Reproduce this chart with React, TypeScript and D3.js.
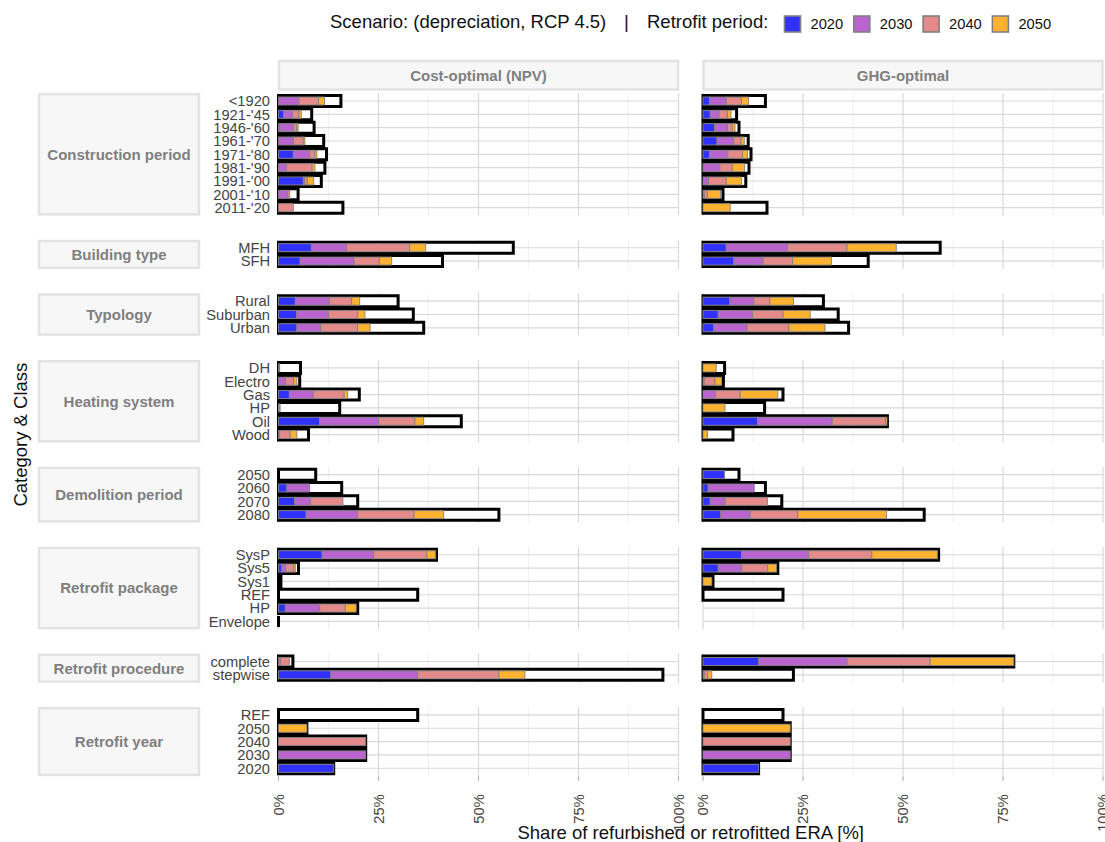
import React from "react";
import * as d3 from "d3";

type Row = [number, number, number, number, number] | null;

const periods = ["2020", "2030", "2040", "2050"];
const periodColors = ["#3131ff", "#b964cf", "#e48a8a", "#fdb32f"];
const scenarios = ["Cost-optimal (NPV)", "GHG-optimal"];
const categories = [
  "Construction period",
  "Building type",
  "Typology",
  "Heating system",
  "Demolition period",
  "Retrofit package",
  "Retrofit procedure",
  "Retrofit year",
];

// rows listed top to bottom; each row: [2020, 2030, 2040, 2050, total incl. REF]
const constructionClasses = ["<1920", "1921-'45", "1946-'60", "1961-'70", "1971-'80", "1981-'90", "1991-'00", "2001-'10", "2011-'20"];
const constructionNPV: Row[] = [
  [0, 5.1, 4.9, 1.5, 15.6],
  [1.3, 2.2, 1.6, 0.6, 8.3],
  [0.3, 3.4, 0.9, 0.3, 8.9],
  [0, 3.7, 2.5, 0.4, 11.3],
  [3.7, 4.1, 1.3, 0.5, 12.0],
  [0, 2.0, 6.4, 0.7, 11.6],
  [6.2, 0.3, 0.7, 1.6, 10.7],
  [0, 2.3, 0.5, 0, 4.9],
  [0, 0, 3.7, 0, 16.1],
];
const constructionGHG: Row[] = [
  [1.6, 4.2, 3.8, 1.8, 15.6],
  [1.8, 2.2, 2.1, 0.9, 8.4],
  [2.9, 3.2, 1.2, 0.7, 9.0],
  [3.5, 4.2, 1.8, 0.8, 11.3],
  [1.6, 4.6, 3.7, 1.2, 12.0],
  [0, 4.2, 3.1, 3.1, 11.5],
  [0, 1.4, 4.4, 3.8, 10.7],
  [0, 0.3, 0.8, 3.3, 5.0],
  [0, 0, 0, 6.8, 16.0],
];

const buildingClasses = ["MFH", "SFH"];
const buildingNPV: Row[] = [
  [8.2, 8.8, 15.8, 4.0, 58.7],
  [5.4, 13.5, 6.3, 3.1, 41.0],
];
const buildingGHG: Row[] = [
  [5.8, 15.3, 14.9, 12.3, 59.3],
  [7.7, 7.3, 7.4, 9.7, 41.3],
];

const typologyClasses = ["Rural", "Suburban", "Urban"];
const typologyNPV: Row[] = [
  [4.2, 8.5, 5.6, 2.0, 29.9],
  [4.5, 8.0, 7.3, 1.8, 33.7],
  [4.6, 6.0, 9.2, 3.1, 36.3],
];
const typologyGHG: Row[] = [
  [6.7, 6.0, 4.0, 5.9, 30.1],
  [3.8, 8.6, 7.6, 6.8, 33.8],
  [2.7, 8.3, 10.5, 9.0, 36.4],
];

const heatingClasses = ["DH", "Electro", "Gas", "HP", "Oil", "Wood"];
const heatingNPV: Row[] = [
  [0, 0.3, 0, 0, 5.5],
  [0, 1.8, 2.0, 0.8, 5.3],
  [2.7, 6.0, 7.7, 0.9, 20.2],
  [0, 0, 0.4, 0, 15.3],
  [10.3, 14.7, 9.1, 2.2, 45.7],
  [0, 0.3, 2.6, 1.7, 7.5],
];
const heatingGHG: Row[] = [
  [0, 0, 0, 3.3, 5.4],
  [0, 0.3, 2.7, 1.6, 5.1],
  [0, 3.1, 6.2, 9.4, 20.0],
  [0, 0, 0, 5.5, 15.4],
  [13.6, 18.7, 13.3, 0.4, 46.1],
  [0, 0, 0, 1.1, 7.5],
];

const demolitionClasses = ["2050", "2060", "2070", "2080"];
const demolitionNPV: Row[] = [
  [0, 0, 0, 0, 9.3],
  [2.1, 5.7, 0, 0, 15.8],
  [4.0, 4.0, 8.1, 0, 19.8],
  [6.9, 12.9, 14.1, 7.4, 55.1],
];
const demolitionGHG: Row[] = [
  [5.4, 0, 0, 0, 9.0],
  [1.3, 11.5, 0, 0, 15.6],
  [1.8, 3.7, 10.6, 0, 19.7],
  [4.4, 7.4, 11.9, 22.2, 55.3],
];

const packageClasses = ["SysP", "Sys5", "Sys1", "REF", "HP", "Envelope"];
const packageNPV: Row[] = [
  [10.9, 12.9, 13.3, 2.2, 39.5],
  [0.8, 1.0, 2.0, 0.4, 5.0],
  [0, 0, 0, 0, 0.6],
  [0, 0, 0, 0, 34.8],
  [1.7, 8.6, 6.4, 2.7, 19.8],
  [0, 0, 0, 0, 0],
];
const packageGHG: Row[] = [
  [9.6, 16.8, 15.8, 16.4, 58.9],
  [3.8, 5.9, 6.5, 2.2, 18.7],
  [0, 0, 0, 2.2, 2.5],
  [0, 0, 0, 0, 20.0],
  null,
  null,
];

const procedureClasses = ["complete", "stepwise"];
const procedureNPV: Row[] = [
  [0, 0.5, 2.2, 0, 3.6],
  [13.1, 21.7, 20.3, 6.5, 96.1],
];
const procedureGHG: Row[] = [
  [13.9, 22.1, 20.8, 20.9, 77.7],
  [0, 0.3, 0.9, 1.0, 22.6],
];

const yearClasses = ["REF", "2050", "2040", "2030", "2020"];
const yearNPV: Row[] = [
  [0, 0, 0, 0, 34.8],
  [0, 0, 0, 7.1, 7.1],
  [0, 0, 21.8, 0, 21.8],
  [0, 21.8, 0, 0, 21.8],
  [13.8, 0, 0, 0, 13.8],
];
const yearGHG: Row[] = [
  [0, 0, 0, 0, 20.0],
  [0, 0, 0, 21.8, 21.8],
  [0, 0, 21.8, 0, 21.8],
  [0, 21.8, 0, 0, 21.8],
  [13.9, 0, 0, 0, 13.9],
];

const xTicks = [0, 25, 50, 75, 100];
const xMinorTicks = [12.5, 37.5, 62.5, 87.5];

const classLists = [constructionClasses, buildingClasses, typologyClasses, heatingClasses, demolitionClasses, packageClasses, procedureClasses, yearClasses];
const npvLists = [constructionNPV, buildingNPV, typologyNPV, heatingNPV, demolitionNPV, packageNPV, procedureNPV, yearNPV];
const ghgLists = [constructionGHG, buildingGHG, typologyGHG, heatingGHG, demolitionGHG, packageGHG, procedureGHG, yearGHG];

const W = 1105;
const H = 842;
const FONT = "'Liberation Sans', Arial, Helvetica, sans-serif";
const STEP = 13.33;
const GAP = 24.1;
const TOP = 93;

export default function App() {
  const xScales = [
    d3.scaleLinear().domain([0, 100]).range([278.5, 678.5]),
    d3.scaleLinear().domain([0, 100]).range([703, 1103]),
  ];

  let cursor = TOP;
  const panels = categories.map((name, i) => {
    const classes = classLists[i];
    const h = (classes.length + 0.2) * STEP;
    const top = cursor;
    cursor += h + GAP;
    const y = d3.scalePoint<string>().domain(classes).range([top, top + h]).padding(0.6);
    return { name, classes, top, h, y, data: [npvLists[i], ghgLists[i]] };
  });
  const bottom = panels[panels.length - 1].top + panels[panels.length - 1].h;

  const outerH = 11;
  const innerH = 8;

  return (
    <div style={{ position: "absolute", left: 0, top: 0 }}>
      <svg width={W} height={H} style={{ display: "block", background: "#fff" }} fontFamily={FONT}>
        {/* legend */}
        <text x={330} y={27.5} fontSize={18.5} fill="#111">Scenario: (depreciation, RCP 4.5)</text>
        <text x={624} y={27.5} fontSize={18.5} fill="#111">|</text>
        <text x={647} y={27.5} fontSize={18.5} fill="#111">Retrofit period:</text>
        {periods.map((p, i) => {
          const kx = 784.5 + i * 69.3;
          return (
            <g key={p}>
              <rect x={kx} y={16} width={16} height={16} fill={periodColors[i]} stroke="#808080" strokeWidth={1.6} />
              <text x={kx + 26} y={28.5} fontSize={14.7} fill="#111">{p}</text>
            </g>
          );
        })}

        {/* column strips */}
        {scenarios.map((s, j) => {
          const [a, b] = xScales[j].range();
          return (
            <g key={s}>
              <rect x={a + 0.5} y={61} width={b - a - 1} height={28.5} fill="#f7f7f7" stroke="#e3e3e3" strokeWidth={2.5} />
              <text x={(a + b) / 2} y={75.5} dy="0.36em" textAnchor="middle" fontSize={15} fontWeight="bold" fill="#7f7f7f">{s}</text>
            </g>
          );
        })}

        {panels.map((p) => (
          <g key={p.name}>
            {/* row strip */}
            <rect x={39} y={p.top + 1.25} width={160} height={p.h - 2.5} fill="#f7f7f7" stroke="#e3e3e3" strokeWidth={2.5} />
            <text x={119} y={p.top + p.h / 2} dy="0.36em" textAnchor="middle" fontSize={15} fontWeight="bold" fill="#7f7f7f">{p.name}</text>
            {/* row labels */}
            {p.classes.map((c) => (
              <text key={c} x={270} y={p.y(c)!} dy="0.36em" textAnchor="end" fontSize={14.7} fill="#444">{c}</text>
            ))}
            {xScales.map((x, j) => {
              const [a, b] = x.range();
              return (
                <g key={j}>
                  {xMinorTicks.map((t) => (
                    <line key={"m" + t} x1={x(t)} x2={x(t)} y1={p.top} y2={p.top + p.h} stroke="#ececec" strokeWidth={0.8} />
                  ))}
                  {p.classes.map((c) => (
                    <line key={"h" + c} x1={a} x2={b} y1={p.y(c)!} y2={p.y(c)!} stroke="#d9d9d9" strokeWidth={1.2} />
                  ))}
                  {xTicks.map((t) => (
                    <line key={"M" + t} x1={x(t)} x2={x(t)} y1={p.top} y2={p.top + p.h} stroke="#d9d9d9" strokeWidth={1.2} />
                  ))}
                  {/* outer total bars */}
                  {p.classes.map((c, r) => {
                    const row = p.data[j][r];
                    if (!row) return null;
                    const cy = p.y(c)!;
                    const x0 = x(0);
                    const x1 = x(row[4]);
                    const y0 = cy - outerH / 2;
                    const y1 = cy + outerH / 2;
                    return (
                      <path key={"o" + c} d={`M${x0},${y0}H${x1}V${y1}H${x0}Z`} fill="#fff" stroke="#000" strokeWidth={3} />
                    );
                  })}
                  {/* stacked retrofit periods */}
                  {p.classes.map((c, r) => {
                    const row = p.data[j][r];
                    if (!row) return null;
                    const cy = p.y(c)!;
                    const stack = d3.cumsum(row.slice(0, 4));
                    return row.slice(0, 4).map((v, k) => {
                      if (v <= 0) return null;
                      const s0 = stack[k] - v;
                      return (
                        <rect key={c + k} x={x(s0)} y={cy - innerH / 2} width={x(stack[k]) - x(s0)} height={innerH}
                          fill={periodColors[k]} stroke="#808080" strokeWidth={0.9} />
                      );
                    });
                  })}
                </g>
              );
            })}
          </g>
        ))}

        {/* x axes */}
        {xScales.map((x, j) => (
          <g key={"ax" + j}>
            {xTicks.map((t) => (
              <g key={t}>
                <line x1={x(t)} x2={x(t)} y1={bottom} y2={bottom + 4.5} stroke="#b3b3b3" strokeWidth={1.2} />
                <text transform={`translate(${x(t)},${bottom + 18}) rotate(-90)`} dy="0.36em" textAnchor="end" fontSize={14.7} fill="#444">{t}%</text>
              </g>
            ))}
          </g>
        ))}

        <text x={(278.5 + 1103) / 2} y={839} textAnchor="middle" fontSize={18.5} fill="#111">Share of refurbished or retrofitted ERA [%]</text>
        <text transform={`translate(20,${(TOP + bottom) / 2}) rotate(-90)`} dy="0.36em" textAnchor="middle" fontSize={18.5} fill="#111">Category &amp; Class</text>
      </svg>
    </div>
  );
}
